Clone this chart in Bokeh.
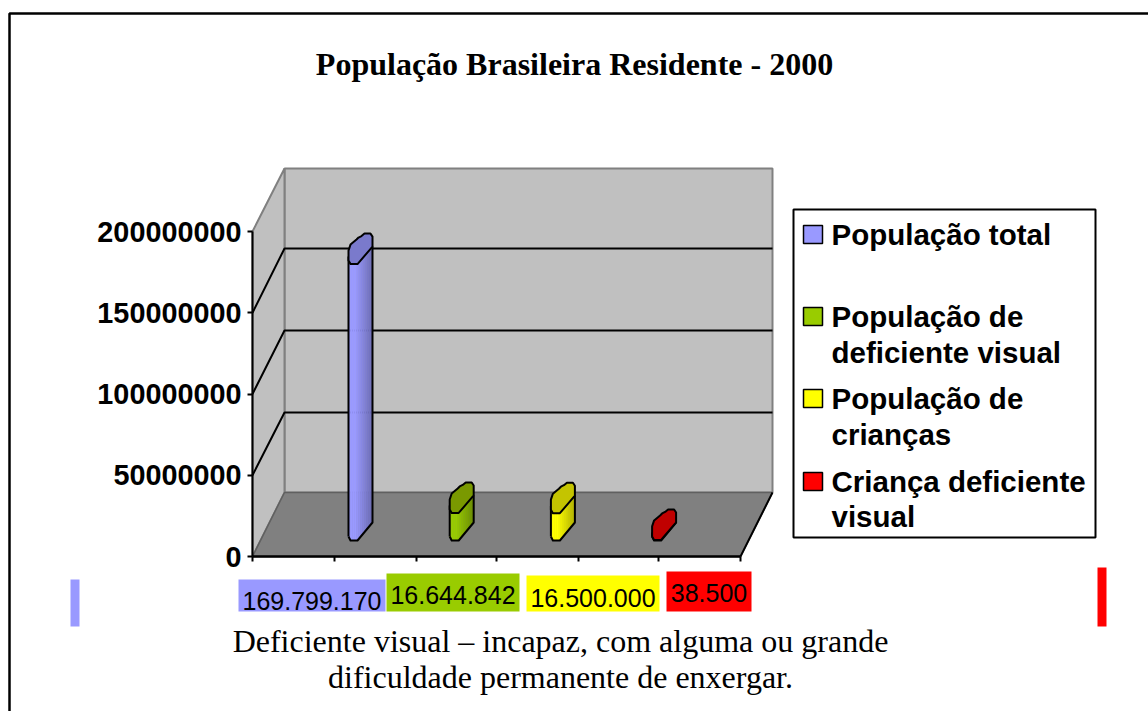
from bokeh.plotting import figure
from bokeh.models import Range1d, LinearAxis, FixedTicker, NumeralTickFormatter
from bokeh.core.properties import value
from bokeh.embed import file_html
from bokeh.resources import INLINE

title = "População Brasileira Residente - 2000"
categories = ["População total", "População de deficiente visual",
              "População de crianças", "Criança deficiente visual"]
legend_lines = [["População total"], ["População de", "deficiente visual"],
                ["População de", "crianças"], ["Criança deficiente", "visual"]]
values = [169799170, 16644842, 16500000, 38500]
value_labels = ["169.799.170", "16.644.842", "16.500.000", "38.500"]
y_ticks = [0, 50000000, 100000000, 150000000, 200000000]
caption = ["Deficiente visual – incapaz, com alguma ou grande",
           "dificuldade permanente de enxergar."]

# styles
face = ["#9999FF", "#99CC00", "#FFFF00", "#FF0000"]
shade = ["#6E6EB8", "#6E9200", "#B8B800", "#B80000"]
cap = ["#7A7ACC", "#7A9900", "#C4C400", "#C00000"]

W, H = 1148, 711
ZERO_Y, TOP_Y = 556, 231           # page pixels of axis 0 and axis 200M
per_px = 2e8 / (ZERO_Y - TOP_Y)
vrange = Range1d((ZERO_Y - H) * per_px, ZERO_Y * per_px)

p = figure(width=W, height=H, x_range=Range1d(0, W), y_range=Range1d(H, 0),
           output_backend="svg", toolbar_location=None, min_border=0,
           x_axis_type=None, y_axis_type=None, background_fill_color="white",
           border_fill_color="white", outline_line_color=None)
p.grid.visible = False
p.extra_y_ranges = {"v": vrange}

# page frame
p.line([9, 9, W], [H, 13, 13], line_color="black", line_width=2.5)

# 3-D box
p.patch([284, 772, 772, 284], [168, 168, 492, 492], fill_color="#C0C0C0",
        line_color="#808080", line_width=2)
p.patch([284, 252, 252, 284], [168, 231, ZERO_Y, 492], fill_color="#C0C0C0",
        line_color="#808080", line_width=2)
p.patch([252, 284, 772, 740], [ZERO_Y, 492, 492, ZERO_Y], fill_color="#808080",
        line_color="#606060", line_width=1.5)
p.line([772, 740], [492, ZERO_Y], line_color="black", line_width=2)

# gridlines on both walls, read through the value scale
DEPTH = 62 * per_px
BACK = 82 / 81.25
for t in y_ticks[1:-1]:
    p.line([252, 284, 772], [t, t * BACK + DEPTH, t * BACK + DEPTH], y_range_name="v",
           line_color="black", line_width=2)

# bars
FLOOR = 16 * per_px
TOP = [(0, 4), (2, 0.5), (9, 0.5), (24, 18), (24, 28), (22, 31), (16, 31), (13, 28.5), (10, 27),
       (8, 25), (2, 20), (0, 14), (0, 8)]
STRIPS = 12


def lerp(a, b, t):
    ca = [int(a[i:i + 2], 16) for i in (1, 3, 5)]
    cb = [int(b[i:i + 2], 16) for i in (1, 3, 5)]
    return "#%02x%02x%02x" % tuple(int(x + (y - x) * t) for x, y in zip(ca, cb))


def lower(dx):
    if dx <= 2:
        return 4 * (1 - dx / 2)
    if dx <= 9:
        return 0
    return (dx - 9) * 18 / 15


for i, v in enumerate(values):
    x0 = 348 + i * 101.2
    y_base = FLOOR
    y_top = FLOOR + v
    step = 24 / STRIPS
    for s in range(STRIPS):
        a, b = s * step, (s + 1) * step
        t = max(0, (s - 3) / (STRIPS - 4))
        c = lerp(face[i], shade[i], t)
        p.patch([x0 + a, x0 + b, x0 + b, x0 + a],
                [y_base + lower(a) * per_px, y_base + lower(b) * per_px, y_top + lower(b) * per_px,
                 y_top + lower(a) * per_px],
                y_range_name="v", fill_color=c, line_color=c, line_width=0.5)
    p.line([x0, x0 + 2, x0 + 9, x0 + 24, x0 + 24],
           [y_base + 4 * per_px, y_base, y_base, y_base + 18 * per_px, y_top + 18 * per_px],
           y_range_name="v", line_color="black", line_width=2, line_join="round")
    p.line([x0, x0], [y_base + 4 * per_px, y_top + 8 * per_px], y_range_name="v",
           line_color="black", line_width=2)
    p.patch([x0 + d for d, _ in TOP], [y_top + h * per_px for _, h in TOP], y_range_name="v",
            fill_color=cap[i], line_color="black", line_width=2, line_join="round")

# axes
yax = LinearAxis(y_range_name="v", fixed_location=252, bounds=(0, 2e8),
                 ticker=FixedTicker(ticks=y_ticks), formatter=NumeralTickFormatter(format="0"),
                 major_tick_in=0, major_tick_out=5, minor_tick_out=0, minor_tick_in=0,
                 major_tick_line_color="black", major_tick_line_width=2,
                 axis_line_color="black", axis_line_width=2,
                 major_label_standoff=6, major_label_text_font="Liberation Sans",
                 major_label_text_font_size="28.8px", major_label_text_font_style="bold",
                 major_label_text_color="black")
p.add_layout(yax, "left")

# the unlabelled category axis
x_edges = [252, 334, 416, 496, 578, 658, 740]
p.line([x_edges[0], x_edges[-1]], [ZERO_Y, ZERO_Y], line_color="black", line_width=2.5)
p.segment(x0=x_edges, x1=x_edges, y0=[ZERO_Y] * 7, y1=[ZERO_Y + 5] * 7, line_color="black", line_width=2)

# title and caption
p.text([574], [63], text=[title], text_font=value("Liberation Serif"), text_font_size="32px",
       text_font_style="bold", text_color="black", text_align="center", text_baseline="middle")
for k, line in enumerate(caption):
    p.text([560], [640 + k * 36], text=[line], text_font=value("Liberation Serif"),
           text_font_size="32px", text_color="black", text_align="center", text_baseline="middle")

# legend
p.quad(left=[793], right=[1095], top=[209], bottom=[537], fill_color="white",
       line_color="black", line_width=2)
swatch_top = [225, 307, 389, 472]
line_y = [[234], [316, 352], [398, 434], [481, 516]]
for i, lines in enumerate(legend_lines):
    p.quad(left=[803], right=[822], top=[swatch_top[i]], bottom=[swatch_top[i] + 18],
           fill_color=face[i], line_color="black", line_width=1.5)
    for line, y in zip(lines, line_y[i]):
        p.text([831], [y], text=[line], text_font=value("Liberation Sans"), text_font_size="29.5px",
               text_font_style="bold", text_color="black", text_baseline="middle")

# coloured value labels
box_l = [238, 386, 526, 666]
box_r = [385, 519, 659, 751]
box_t = [579, 573, 575, 571]
text_y = [600, 594, 597, 592]
for i, lab in enumerate(value_labels):
    p.quad(left=[box_l[i]], right=[box_r[i]], top=[box_t[i]], bottom=[611], fill_color=face[i],
           line_color=None)
    p.text([(box_l[i] + box_r[i]) / 2], [text_y[i]], text=[lab], text_font=value("Liberation Sans"),
           text_font_size="25px", text_color="black", text_align="center", text_baseline="middle")

# side strips
p.quad(left=[70], right=[79], top=[579], bottom=[626], fill_color=face[0], line_color=None)
p.quad(left=[1097], right=[1106], top=[567], bottom=[626], fill_color=face[3], line_color=None)

open("out.html", "w").write(file_html(p, INLINE))
